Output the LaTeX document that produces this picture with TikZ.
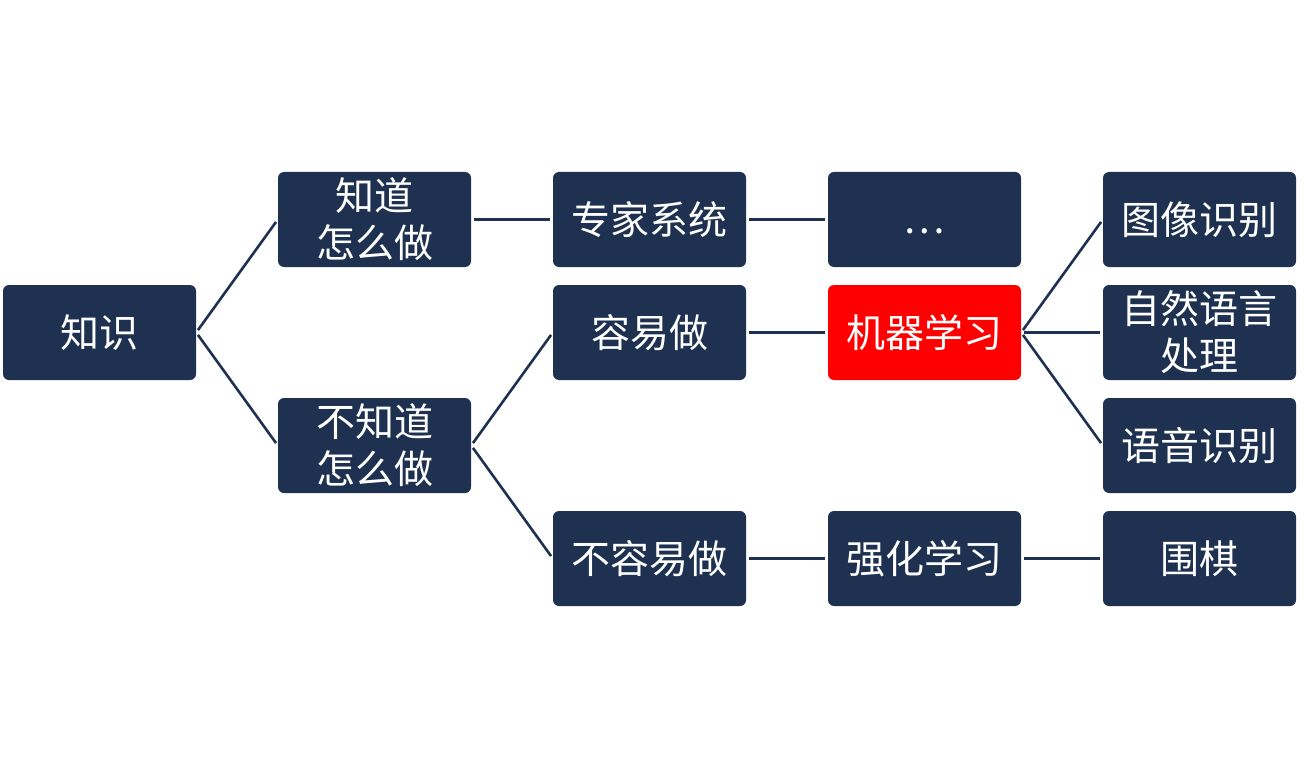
\documentclass[tikz,border=0pt]{standalone}
\usepackage{fontspec}
\setmainfont{Noto Sans CJK SC}
\definecolor{navy}{HTML}{1F3150}
\definecolor{hot}{HTML}{FF0000}
\begin{document}
\begin{tikzpicture}[x=1pt,y=-1pt,
  box/.style={fill=navy, rounded corners=6pt, minimum width=193pt, minimum height=95pt, inner sep=0pt,
    text=white, align=center, font=\fontsize{39}{47}\selectfont},
  hotbox/.style={box, fill=hot},
  link/.style={draw=navy, line width=2.6pt, shorten <=3pt, shorten >=3pt}]
\useasboundingbox (0,0) rectangle (1316,778);
\node[box] (zs) at (99.5,332.5) {知识};
\node[box] (zd) at (374.5,219.5) {知道\\怎么做};
\node[box] (bzd) at (374.5,445.5) {不知道\\怎么做};
\node[box] (zj) at (649.5,219.5) {专家系统};
\node[box] (ry) at (649.5,332.5) {容易做};
\node[box] (bry) at (649.5,558.5) {不容易做};
\node[box] (dots) at (924.5,219.5) {\raisebox{-14pt}[0pt][0pt]{…}};
\node[hotbox] (ml) at (924.5,332.5) {机器学习};
\node[box] (rl) at (924.5,558.5) {强化学习};
\node[box] (tx) at (1199.5,219.5) {图像识别};
\node[box] (nlp) at (1199.5,332.5) {自然语言\\处理};
\node[box] (yy) at (1199.5,445.5) {语音识别};
\node[box] (wq) at (1199.5,558.5) {围棋};
\draw[link] (zs.east) -- (zd.west);
\draw[link] (zs.east) -- (bzd.west);
\draw[link] (zd.east) -- (zj.west);
\draw[link] (bzd.east) -- (ry.west);
\draw[link] (bzd.east) -- (bry.west);
\draw[link] (zj.east) -- (dots.west);
\draw[link] (ry.east) -- (ml.west);
\draw[link] (bry.east) -- (rl.west);
\draw[link] (ml.east) -- (tx.west);
\draw[link] (ml.east) -- (nlp.west);
\draw[link] (ml.east) -- (yy.west);
\draw[link] (rl.east) -- (wq.west);
\end{tikzpicture}
\end{document}
